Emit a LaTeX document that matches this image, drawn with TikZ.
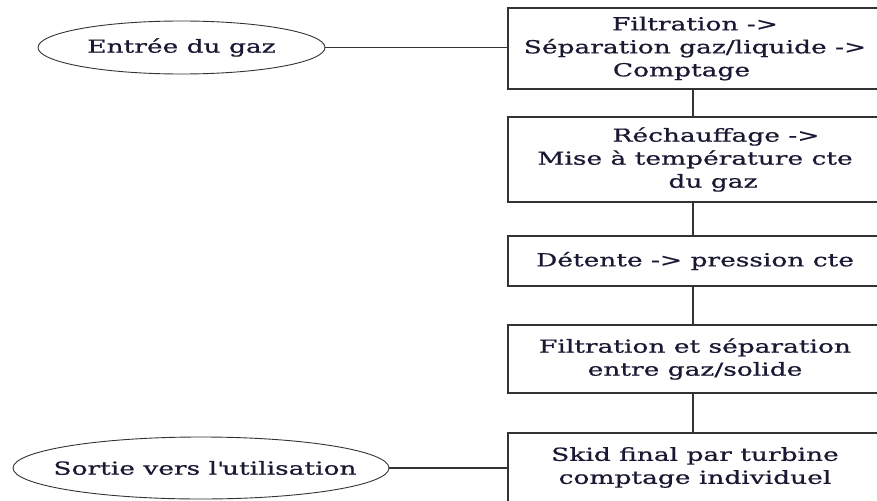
\documentclass[tikz,border=0pt]{standalone}
\usepackage{fontspec}
\setmainfont{DejaVu Serif}[FakeStretch=1.47,FakeBold=0.8]
\usetikzlibrary{shapes.geometric}
\definecolor{ink}{rgb}{0.10,0.10,0.20}
\definecolor{edge}{gray}{0.2}
\begin{document}
\begin{tikzpicture}[x=1pt,y=-1pt,
  font=\fontsize{18}{23}\selectfont, text=ink,
  stepbox/.style={draw=edge, line width=1.2pt, rectangle, inner sep=0pt,
    minimum width=374pt, align=center},
  terminal/.style={draw=edge, line width=0.9pt, ellipse, inner sep=0pt},
  link/.style={draw=edge, line width=1.1pt}]
  \useasboundingbox (0,0) rectangle (877,500);
  \clip (0,0) rectangle (877,500);

  % process steps
  \node[stepbox, minimum height=81pt] (s1) at (695,48.5)
    {Filtration ->\\Séparation gaz/liquide ->\\Comptage\hspace*{27pt}};
  \node[stepbox, minimum height=85pt] (s2) at (695,159.5)
    {\hspace*{42pt}Réchauffage ->\\Mise à température cte\\\hspace*{36pt}du gaz};
  \node[stepbox, minimum height=50pt] (s3) at (695,261)
    {Détente -> pression cte};
  \node[stepbox, minimum height=68pt] (s4) at (695,359)
    {Filtration et séparation\\entre gaz/solide};
  \node[stepbox, minimum height=69pt] (s5) at (695,467.5)
    {Skid final par turbine\\comptage individuel};

  % inlet and outlet (labels boxed at zero width so the ellipse keeps its size)
  \node[terminal, minimum width=287pt, minimum height=53pt] (in) at (181.5,47.5)
    {\makebox[0pt]{Entrée du gaz}};
  \node[terminal, minimum width=376pt, minimum height=62pt] (out) at (201,468)
    {\makebox[0pt]{\hspace*{8pt}Sortie vers l\textquotesingle utilisation}};

  % connectors
  \draw[link] (in.east) -- (s1.west |- in.east);
  \draw[link] (out.east) -- (s5.west |- out.east);
  \draw[link] (s1.south -| 693,0) -- (s2.north -| 693,0);
  \draw[link] (s2.south -| 693,0) -- (s3.north -| 693,0);
  \draw[link] (s3.south -| 693,0) -- (s4.north -| 693,0);
  \draw[link] (s4.south -| 693,0) -- (s5.north -| 693,0);
\end{tikzpicture}
\end{document}
